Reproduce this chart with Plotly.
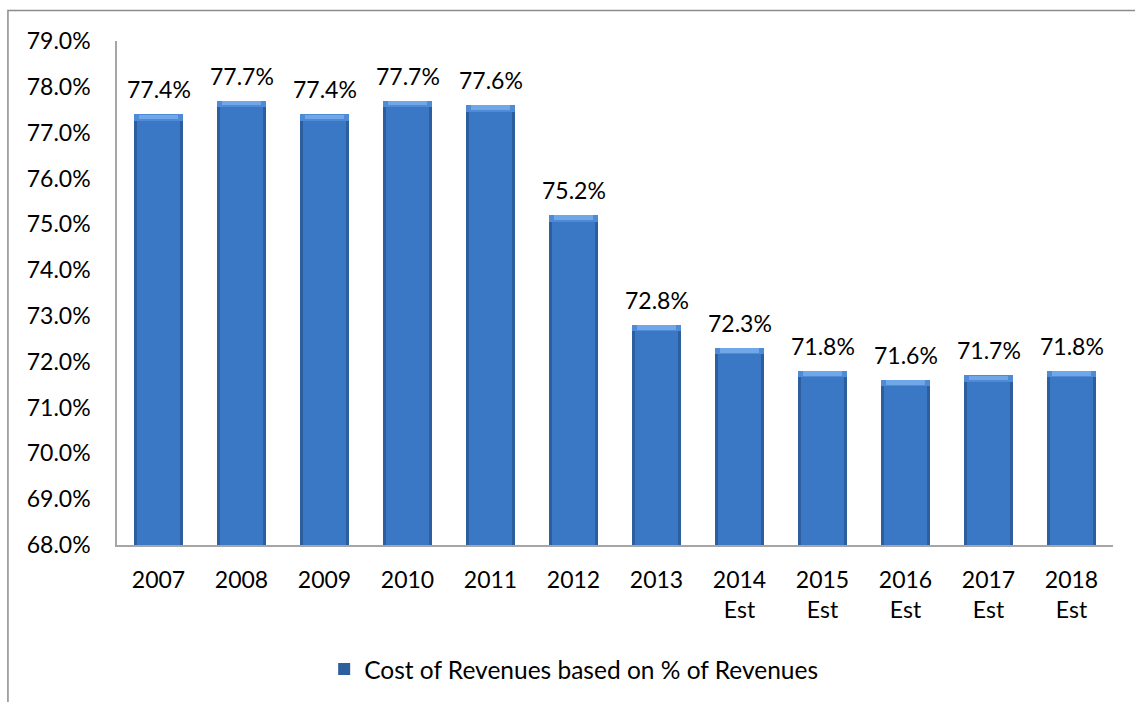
import plotly.graph_objects as go

# Cost of revenues as a share of revenues, by year
years = ["2007", "2008", "2009", "2010", "2011", "2012", "2013",
         "2014<br>Est", "2015<br>Est", "2016<br>Est", "2017<br>Est", "2018<br>Est"]
cost_pct = [77.4, 77.7, 77.4, 77.7, 77.6, 75.2, 72.8, 72.3, 71.8, 71.6, 71.7, 71.8]
series_name = "Cost of Revenues based on % of Revenues"

y_min, y_max = 68.0, 79.0
bevel = 0.14
font_family = "Lato, Roboto, sans-serif"
font_size = 23
positions = list(range(len(years)))

fig = go.Figure()

# body of each bar (darker rim)
fig.add_trace(go.Bar(
    x=positions, y=[v - y_min for v in cost_pct], base=y_min,
    width=0.58, marker=dict(color="#2D5F9F", line=dict(width=0)),
    name=series_name, showlegend=True, hoverinfo="skip",
))
# lighter face inside the rim
fig.add_trace(go.Bar(
    x=positions, y=[v - y_min - bevel for v in cost_pct], base=y_min,
    width=0.52, marker=dict(color="#3A78C6", line=dict(width=0)),
    showlegend=False, hoverinfo="skip",
))
# bevelled highlight along the top edge
fig.add_trace(go.Bar(
    x=positions, y=[bevel] * len(cost_pct), base=[v - bevel for v in cost_pct],
    width=0.58, marker=dict(color="#4F8AD6", line=dict(width=0)),
    showlegend=False, hoverinfo="skip",
))
fig.add_trace(go.Bar(
    x=positions, y=[bevel * 0.7] * len(cost_pct), base=[v - bevel * 0.75 for v in cost_pct],
    width=0.46, marker=dict(color="#6FA7E8", line=dict(width=0)),
    showlegend=False, hoverinfo="skip",
))

# value labels above the bars
for i, v in zip(positions, cost_pct):
    fig.add_annotation(
        x=i, y=v, text=f"{v:.1f}%", showarrow=False,
        yanchor="middle", yshift=25,
        font=dict(family=font_family, size=font_size, color="#000000"),
    )

# outer chart frame
fig.add_shape(
    type="rect", xref="paper", yref="paper",
    x0=-0.1095, x1=1.2, y0=-0.6, y1=1.0605,
    line=dict(color="#8C8C8C", width=1.5), fillcolor="rgba(0,0,0,0)",
    layer="below",
)

fig.update_layout(
    width=1135, height=702,
    margin=dict(l=117, r=22, t=41, b=156),
    paper_bgcolor="#FFFFFF", plot_bgcolor="#FFFFFF",
    barmode="overlay", bargap=0,
    font=dict(family=font_family, size=font_size, color="#000000"),
    legend=dict(
        orientation="h", x=0.208, xanchor="left", y=-0.2436, yanchor="middle",
        font=dict(family=font_family, size=24.5, color="#000000"),
        bgcolor="rgba(0,0,0,0)",
    ),
    xaxis=dict(
        range=[-0.5, len(years) - 0.5],
        tickmode="array", tickvals=positions, ticktext=years,
        showgrid=False, zeroline=False,
        showline=True, linecolor="#A6A6A6", linewidth=1.5,
        ticks="", ticklabelstandoff=14,
        tickfont=dict(family=font_family, size=font_size, color="#000000"),
    ),
    yaxis=dict(
        range=[y_min, y_max], dtick=1, tick0=y_min,
        tickformat=".1f", ticksuffix="%",
        showgrid=False, zeroline=False,
        showline=True, linecolor="#A6A6A6", linewidth=1.5,
        ticks="", ticklabelstandoff=20,
        tickfont=dict(family=font_family, size=font_size, color="#000000"),
    ),
)

fig.write_html("out.html")
